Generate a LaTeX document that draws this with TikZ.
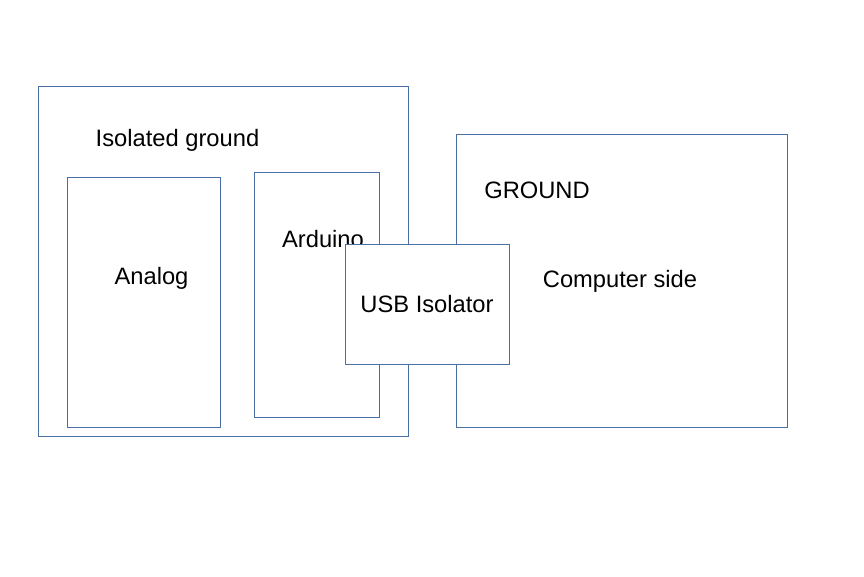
\documentclass[tikz,border=0pt]{standalone}
\usepackage{fontspec}
\setmainfont{Liberation Sans}
\usepackage{tikz}
\usetikzlibrary{calc}
\definecolor{boxline}{HTML}{4A6FA5}

\begin{document}
\begin{tikzpicture}[x=0.02cm,y=-0.02cm]
    \useasboundingbox (0,0) rectangle (864,576);
    \tikzset{box/.style={draw=boxline, line width=0.45pt},
             lbl/.style={anchor=base, font=\fontsize{13.5}{16}\selectfont, inner sep=0pt}}

    % Define the corners of the boxes
    \coordinate (isoA) at (38, 86);
    \coordinate (isoB) at (408, 436);
    \coordinate (anaA) at (67, 177);
    \coordinate (anaB) at (220, 427);
    \coordinate (ardA) at (254, 172);
    \coordinate (ardB) at (379, 417);
    \coordinate (usbA) at (345, 244);
    \coordinate (usbB) at (509, 364);
    \coordinate (pcA) at (456, 134);
    \coordinate (pcB) at (787, 427);

    % Draw the boxes
    \draw[box] (isoA) rectangle (isoB);
    \draw[box] (anaA) rectangle (anaB);
    \draw[box] (ardA) rectangle (ardB);
    \draw[box] (pcA) rectangle (pcB);

    % Label the boxes
    \node[lbl] (isolated) at (177.5, 146) {Isolated ground};
    \node[lbl] (analog) at (151.5, 284) {Analog};
    \node[lbl] (arduino) at (323, 247) {Arduino};
    \node[lbl] (ground) at (537, 198) {GROUND};
    \node[lbl] (computer) at (620, 287) {Computer side};

    % The isolator sits on top
    \draw[box, fill=white] (usbA) rectangle (usbB);
    \node[lbl] (usb) at ($(usbA)!0.5!(usbB) + (0, 8)$) {USB Isolator};
\end{tikzpicture}
\end{document}
